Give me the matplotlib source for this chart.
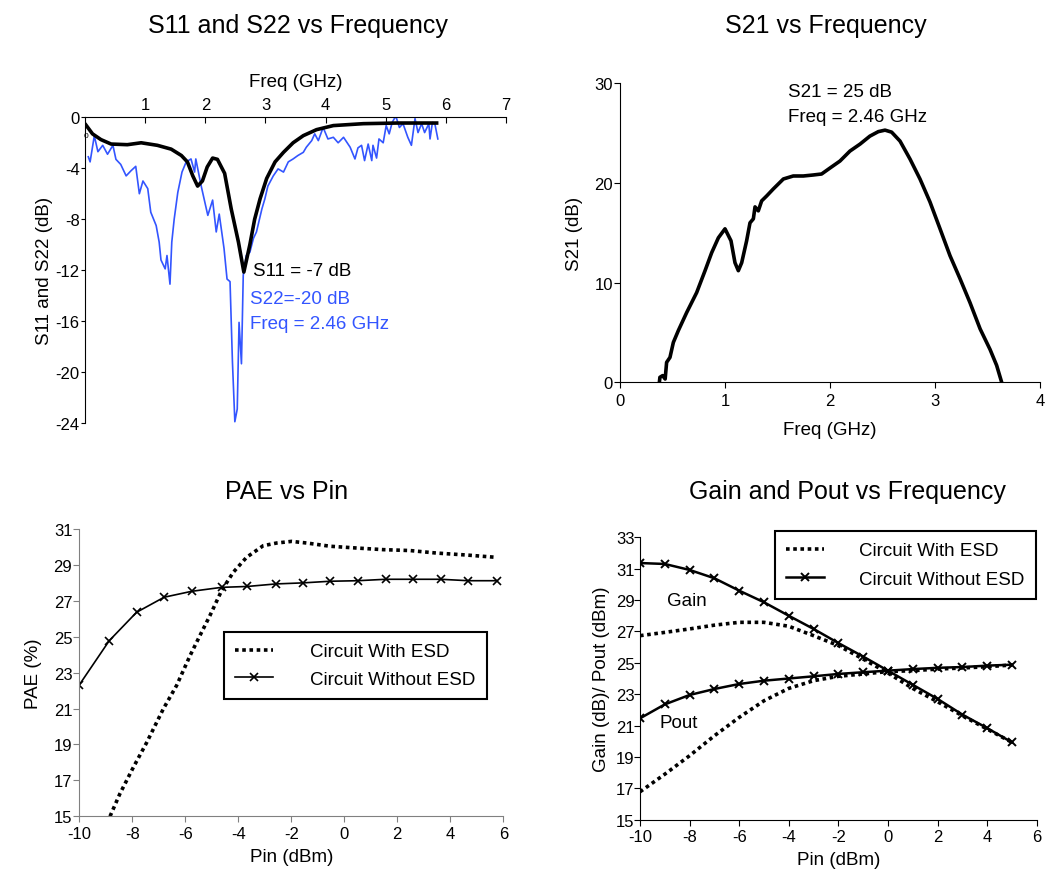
import numpy as np
import matplotlib
matplotlib.use("Agg")
import matplotlib.pyplot as plt

plt.rcParams['font.family'] = ['Liberation Sans', 'DejaVu Sans']
plt.rcParams['axes.unicode_minus'] = False

# ---- S11 / S22 (top left) ----
s11_freq = [0.01, 0.12, 0.26, 0.43, 0.7, 0.93, 1.2, 1.43, 1.6, 1.7, 1.79, 1.87, 1.95, 2.03,
            2.12, 2.2, 2.32, 2.43, 2.55, 2.64, 2.74, 2.82, 2.91, 3.02, 3.16, 3.3, 3.46,
            3.63, 3.85, 4.13, 4.63, 5.2, 5.85]
s11_db = [-0.6, -1.3, -1.75, -2.1, -2.15, -2.0, -2.2, -2.5, -3.0, -3.5, -4.6, -5.4, -5.0, -3.9,
          -3.2, -3.3, -4.4, -7.2, -9.8, -12.15, -10.0, -8.0, -6.4, -4.8, -3.5, -2.75, -2.0,
          -1.44, -0.97, -0.65, -0.5, -0.45, -0.45]

s22_freq = [0.05, 0.08, 0.15, 0.21, 0.29, 0.37, 0.46, 0.51, 0.59, 0.68, 0.76, 0.84, 0.90, 0.96,
            1.04, 1.09, 1.18, 1.23, 1.26, 1.33, 1.36, 1.41, 1.44, 1.48, 1.54, 1.61, 1.68, 1.76,
            1.82, 1.84, 1.93, 2.04, 2.12, 2.18, 2.23, 2.31, 2.36, 2.41, 2.45, 2.49, 2.53, 2.56,
            2.60, 2.63, 2.68, 2.74, 2.80, 2.85, 2.94, 2.99, 3.04, 3.13, 3.21, 3.30, 3.38, 3.46,
            3.54, 3.63, 3.68, 3.77, 3.82, 3.88, 3.96, 4.04, 4.13, 4.21, 4.30, 4.41, 4.49, 4.54,
            4.60, 4.65, 4.71, 4.77, 4.79, 4.85, 4.89, 4.96, 5.01, 5.06, 5.11, 5.17, 5.23, 5.29,
            5.37, 5.43, 5.49, 5.54, 5.60, 5.65, 5.72, 5.74, 5.78, 5.82, 5.87]
s22_db = [-3.1, -3.5, -1.45, -2.7, -2.2, -2.9, -2.2, -3.3, -3.7, -4.6, -4.2, -3.85, -6.0, -5.0,
          -5.6, -7.45, -8.5, -9.8, -11.2, -11.9, -10.85, -13.1, -9.8, -8.0, -5.9, -4.3, -3.5, -3.27,
          -4.3, -3.27, -5.4, -7.7, -6.5, -9.0, -7.6, -10.3, -12.7, -12.9, -19.2, -23.9, -22.9, -16.1,
          -19.35, -12.4, -10.85, -10.6, -9.5, -9.0, -7.2, -6.4, -5.4, -4.6, -4.05, -4.3, -3.5, -3.27,
          -3.0, -2.75, -2.35, -1.83, -1.3, -1.83, -0.8, -1.7, -1.57, -2.0, -1.57, -2.35, -3.27, -2.4,
          -2.2, -3.4, -2.1, -3.4, -2.2, -3.2, -1.7, -2.0, -0.65, -1.3, -0.4, 0.1, -0.8, -0.5,
          -1.57, -2.2, -0.1, -1.2, -0.5, -1.2, -0.5, -1.7, -0.4, -0.5, -1.7]

# ---- S21 (top right) ----
s21_freq = [0.375, 0.38, 0.406, 0.43, 0.444, 0.476, 0.508, 0.556, 0.635, 0.73, 0.81, 0.873,
            0.937, 1.0, 1.057, 1.095, 1.127, 1.159, 1.206, 1.238, 1.27, 1.286, 1.317, 1.349,
            1.397, 1.46, 1.556, 1.65, 1.746, 1.84, 1.92, 2.0, 2.095, 2.19, 2.286, 2.38, 2.46,
            2.524, 2.587, 2.667, 2.762, 2.857, 2.952, 3.048, 3.143, 3.238, 3.333, 3.43, 3.524,
            3.587, 3.635]
s21_db = [0, 0.5, 0.67, 0.33, 2.0, 2.5, 4.0, 5.2, 7.0, 9.0, 11.2, 13.0,
          14.5, 15.4, 14.2, 12.0, 11.2, 12.0, 14.2, 16.0, 16.4, 17.6, 17.2, 18.2,
          18.7, 19.4, 20.4, 20.7, 20.7, 20.8, 20.9, 21.5, 22.2, 23.2, 23.9, 24.7, 25.15,
          25.3, 25.1, 24.2, 22.4, 20.4, 18.1, 15.4, 12.7, 10.4, 8.0, 5.35, 3.3,
          1.7, 0]

# ---- PAE vs Pin (bottom left) ----
pae_esd_pin = [-8.84, -8.47, -7.96, -7.46, -6.83, -6.33, -5.82, -5.45, -5.07, -4.63, -4.19,
               -3.69, -3.06, -2.55, -1.99, -1.42, -0.54, 0.47, 1.47, 2.48, 3.48, 4.62, 5.75]
pae_esd = [15.0, 16.25, 17.73, 19.1, 20.98, 22.28, 23.95, 25.06, 26.18, 27.57, 28.59,
           29.42, 30.07, 30.22, 30.31, 30.22, 30.04, 29.94, 29.85, 29.8, 29.66, 29.55, 29.42]
pae_noesd_pin = [-10, -8.87, -7.84, -6.8, -5.76, -4.63, -3.66, -2.59, -1.55, -0.54, 0.5,
                 1.56, 2.6, 3.64, 4.68, 5.75]
pae_noesd = [22.32, 24.78, 26.36, 27.2, 27.53, 27.75, 27.8, 27.94, 28.0, 28.09, 28.12,
             28.2, 28.2, 28.2, 28.12, 28.12]

# ---- Gain and Pout (bottom right) ----
pin = [-10, -9, -8, -7, -6, -5, -4, -3, -2, -1, 0, 1, 2, 3, 4, 5]
gain_noesd = [31.36, 31.3, 30.92, 30.39, 29.6, 28.86, 28.0, 27.16, 26.26, 25.4, 24.5,
              23.6, 22.7, 21.7, 20.84, 19.93]
pout_noesd = [21.46, 22.35, 22.95, 23.33, 23.65, 23.86, 24.0, 24.14, 24.29, 24.4, 24.5,
              24.6, 24.68, 24.73, 24.82, 24.88]
gain_esd = [26.73, 26.94, 27.16, 27.4, 27.58, 27.58, 27.33, 26.73, 26.1, 25.24, 24.35,
            23.37, 22.52, 21.63, 20.78, 19.93]
pout_esd = [16.78, 17.9, 19.08, 20.35, 21.52, 22.58, 23.37, 23.86, 24.14, 24.29, 24.44,
            24.5, 24.6, 24.67, 24.75, 24.86]

W, H = 1063, 879
fig = plt.figure(figsize=(W / 100, H / 100), dpi=100)


def px_axes(l, t, r, b):
    return fig.add_axes([l / W, 1 - b / H, (r - l) / W, (b - t) / H])


def fig_text(x, y, s, **kw):
    fig.text(x / W, 1 - y / H, s, **kw)


blue = '#3355ff'
dots = (0, (1, 1))
TITLE = 18
LABEL = 13.5
TICK = 12

# top left
ax1 = px_axes(85.3, 118.3, 505.7, 424)
ax1.plot(s22_freq, s22_db, color=blue, lw=1.2)
ax1.plot(s11_freq, s11_db, color='black', lw=2.6)
ax1.set_xlim(0, 7)
ax1.set_ylim(-24, 0)
ax1.xaxis.tick_top()
ax1.xaxis.set_label_position('top')
ax1.set_xticks(range(1, 8))
ax1.set_yticks(range(-24, 1, 4))
ax1.spines['bottom'].set_visible(False)
ax1.spines['right'].set_visible(False)
ax1.tick_params(axis='x', direction='in', length=4, labelsize=TICK, pad=4)
ax1.tick_params(axis='y', direction='out', length=3, labelsize=TICK, pad=1)
ax1.set_xlabel('Freq (GHz)', fontsize=LABEL, labelpad=8)
ax1.set_ylabel('S11 and S22 (dB)', fontsize=LABEL, labelpad=2)
ax1.text(2.8, -12.0, 'S11 = -7 dB', fontsize=LABEL, va='center')
ax1.text(2.75, -14.2, 'S22=-20 dB', fontsize=LABEL, color=blue, va='center')
ax1.text(2.75, -16.2, 'Freq = 2.46 GHz', fontsize=LABEL, color=blue, va='center')
fig_text(86, 136, '0', fontsize=6, ha='center', va='center')
fig_text(298, 33, 'S11 and S22 vs Frequency', fontsize=TITLE, ha='center', va='baseline')

# top right
ax2 = px_axes(620, 84.3, 1040, 383.3)
ax2.plot(s21_freq, s21_db, color='black', lw=2.6)
ax2.set_xlim(0, 4)
ax2.set_ylim(0, 30)
ax2.set_xticks(range(0, 5))
ax2.set_yticks([0, 10, 20, 30])
ax2.spines['top'].set_visible(False)
ax2.spines['right'].set_visible(False)
ax2.tick_params(direction='out', length=4, labelsize=TICK, pad=1)
ax2.tick_params(axis='x', pad=4)
ax2.set_xlabel('Freq (GHz)', fontsize=LABEL, labelpad=9)
ax2.set_ylabel('S21 (dB)', fontsize=LABEL, labelpad=8)
ax2.text(1.6, 29.2, 'S21 = 25 dB', fontsize=LABEL, va='center')
ax2.text(1.6, 26.7, 'Freq = 2.46 GHz', fontsize=LABEL, va='center')
fig_text(826, 33, 'S21 vs Frequency', fontsize=TITLE, ha='center', va='baseline')

# bottom left
ax3 = px_axes(79.3, 530, 503.3, 817.3)
ax3.plot(pae_esd_pin, pae_esd, color='black', lw=2.6, ls=dots, label='Circuit With ESD')
ax3.plot(pae_noesd_pin, pae_noesd, color='black', lw=1.2, marker='x', ms=5.5, mew=1.2,
         label='Circuit Without ESD')
ax3.set_xlim(-10, 6)
ax3.set_ylim(15, 31)
ax3.set_xticks(range(-10, 7, 2))
ax3.set_yticks(range(15, 32, 2))
ax3.spines['top'].set_visible(False)
ax3.spines['right'].set_visible(False)
for sp in ('left', 'bottom'):
    ax3.spines[sp].set_color('#808080')
ax3.tick_params(direction='out', length=4, labelsize=TICK, pad=1, color='#808080')
ax3.tick_params(axis='x', pad=3)
ax3.set_xlabel('Pin (dBm)', fontsize=LABEL, labelpad=5)
ax3.set_ylabel('PAE (%)', fontsize=LABEL, labelpad=8)
leg3 = ax3.legend(loc='upper left', bbox_to_anchor=(224 / W, 1 - 633 / H),
                  bbox_transform=fig.transFigure, fontsize=LABEL, frameon=True,
                  fancybox=False, edgecolor='black', framealpha=1, borderpad=0.6,
                  handlelength=2.0, handletextpad=2.0, labelspacing=0.55, borderaxespad=0)
leg3.get_frame().set_linewidth(1.5)
fig_text(287, 499, 'PAE vs Pin', fontsize=TITLE, ha='center', va='baseline')

# bottom right
ax4 = px_axes(640, 538.3, 1036.7, 820.7)
ax4.plot(pin, gain_esd, color='black', lw=2.6, ls=dots, label='Circuit With ESD')
ax4.plot(pin, pout_esd, color='black', lw=2.6, ls=dots)
ax4.plot(pin, gain_noesd, color='black', lw=1.8, marker='x', ms=6, mew=1.4,
         label='Circuit Without ESD')
ax4.plot(pin, pout_noesd, color='black', lw=1.8, marker='x', ms=6, mew=1.4)
ax4.set_xlim(-10, 6)
ax4.set_ylim(15, 33)
ax4.set_xticks(range(-10, 7, 2))
ax4.set_yticks(range(15, 34, 2))
ax4.spines['top'].set_visible(False)
ax4.spines['right'].set_visible(False)
ax4.tick_params(direction='out', length=4, labelsize=TICK, pad=0)
ax4.tick_params(axis='x', pad=3)
ax4.set_xlabel('Pin (dBm)', fontsize=LABEL, labelpad=5)
ax4.set_ylabel('Gain (dB)/ Pout (dBm)', fontsize=LABEL, labelpad=4)
ax4.text(-8.9, 29.0, 'Gain', fontsize=LABEL, va='center')
ax4.text(-9.2, 21.2, 'Pout', fontsize=LABEL, va='center')
leg4 = ax4.legend(loc='upper left', bbox_to_anchor=(775 / W, 1 - 532 / H),
                  bbox_transform=fig.transFigure, fontsize=LABEL, frameon=True,
                  fancybox=False, edgecolor='black', framealpha=1, borderpad=0.6,
                  handlelength=2.0, handletextpad=1.9, labelspacing=0.6, borderaxespad=0)
leg4.get_frame().set_linewidth(1.5)
fig_text(847, 499, 'Gain and Pout vs Frequency', fontsize=TITLE, ha='center', va='baseline')

fig.savefig('out.png', dpi=100)
